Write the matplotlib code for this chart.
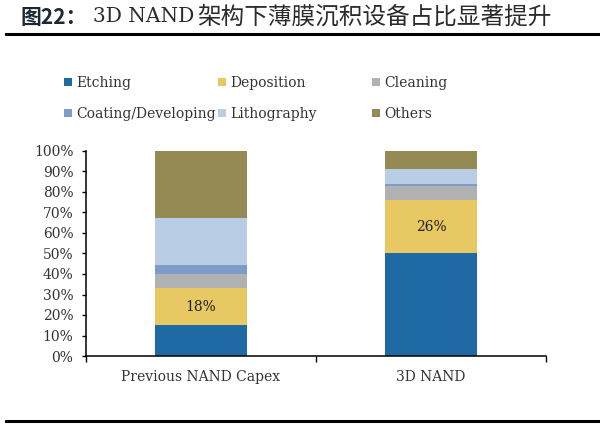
# Share of equipment capex by process: previous NAND vs 3D NAND
import matplotlib.pyplot as plt
from matplotlib.ticker import FuncFormatter

categories = ['Previous NAND Capex', '3D NAND']
segments = ['Etching', 'Deposition', 'Cleaning', 'Coating/Developing', 'Lithography', 'Others']
shares = {
    'Etching':            [15, 50],
    'Deposition':         [18, 26],
    'Cleaning':           [7, 7],
    'Coating/Developing': [4.5, 1],
    'Lithography':        [23, 7],
    'Others':             [32.5, 9],
}
colors = ['#1F6AA5', '#E8C862', '#B1B1B1', '#7D9CCB', '#B9CDE5', '#948A54']
yticks = [0, 10, 20, 30, 40, 50, 60, 70, 80, 90, 100]

serif = 'DejaVu Serif'
txt = '#333333'
plt.rcParams['font.family'] = [serif]

fig = plt.figure(figsize=(6.08, 4.28), dpi=100)
W, H = 608, 428
ax = fig.add_axes([86 / W, 1 - 356 / H, (546 - 86) / W, (356 - 151) / H])

x = list(range(len(categories)))
bottom = [0] * len(categories)
handles = []
for name, c in zip(segments, colors):
    vals = shares[name]
    bars = ax.bar(x, vals, 0.4, bottom=bottom, color=c, label=name)
    handles.append(bars)
    if name == 'Deposition':
        ax.bar_label(bars, labels=[f'{v:g}%' for v in vals], label_type='center',
                     fontsize=10, color='#222222', family=serif)
    bottom = [b + v for b, v in zip(bottom, vals)]

ax.set_xlim(-0.5, 1.5)
ax.set_ylim(0, 100)
ax.set_yticks(yticks)
ax.yaxis.set_major_formatter(FuncFormatter(lambda v, p: f'{v:.0f}%'))
ax.set_xticks(x)
ax.set_xticklabels(categories)
ax.set_xticks([-0.5, 0.5, 1.5], minor=True)
ax.tick_params(axis='x', which='major', length=0, pad=10, labelsize=10, labelcolor=txt)
ax.tick_params(axis='x', which='minor', length=4, width=1, direction='out')
ax.tick_params(axis='y', length=3, width=1, direction='out', pad=6, labelsize=10, labelcolor=txt)
for s in ['top', 'right']:
    ax.spines[s].set_visible(False)
for s in ['left', 'bottom']:
    ax.spines[s].set_linewidth(1.1)

# legend: three fixed columns, two rows
col_x = [64, 218, 372]
for j in range(3):
    fig.legend(handles=[handles[j], handles[j + 3]], labels=[segments[j], segments[j + 3]],
               loc='upper left', bbox_to_anchor=(col_x[j] / W, 1 - 76 / H),
               frameon=False, fontsize=10, handlelength=0.55, handleheight=0.55,
               handletextpad=0.35, labelspacing=1.2, borderpad=0, borderaxespad=0,
               labelcolor=txt)

# title
ty = 1 - 17 / H
fig.text(20 / W, ty, '图22：', family=['Noto Sans CJK SC'], weight='bold',
         fontsize=15, color='#1C2833', va='center')
fig.text(93 / W, ty, '3D NAND', family=[serif], fontsize=14.5, color='#2B2B2B', va='center')
fig.text(197 / W, ty, '架构下薄膜沉积设备占比显著提升', family=['Noto Sans CJK SC'],
         fontsize=17, color='#2B2B2B', va='center')

fig.add_artist(plt.Line2D([6 / W, 598 / W], [1 - 34 / H, 1 - 34 / H], color='black', lw=2.2))
fig.add_artist(plt.Line2D([6 / W, 598 / W], [1 - 421 / H, 1 - 421 / H], color='black', lw=2.2))

fig.savefig('out.png', dpi=100)
